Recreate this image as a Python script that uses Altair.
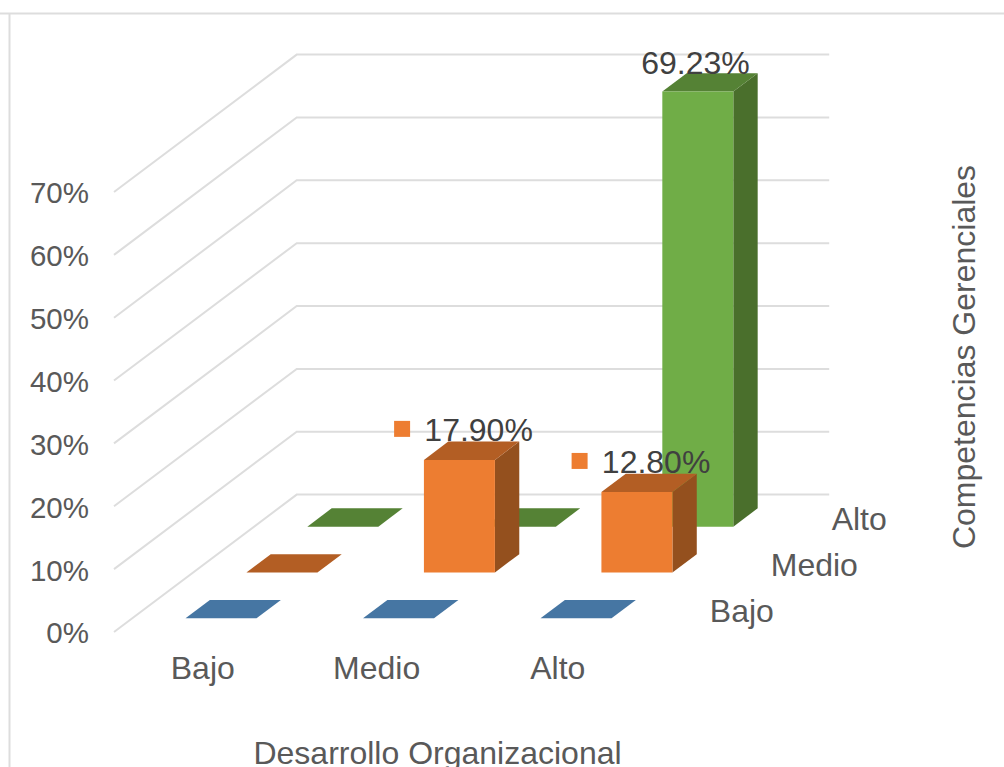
import altair as alt
import pandas as pd

# Values of the survey cross-tabulation, in percent.
categories = ["Bajo", "Medio", "Alto"]
series_names = ["Bajo", "Medio", "Alto"]
series_bajo = [0.0, 0.0, 0.0]
series_medio = [0.0, 17.90, 12.80]
series_alto = [0.0, 0.0, 69.23]
value_ticks = [0, 10, 20, 30, 40, 50, 60, 70]
x_title = "Desarrollo Organizacional"
depth_title = "Competencias Gerenciales"

front_colors = ["#5B9BD5", "#ED7D31", "#70AD47"]
top_colors = ["#4676A3", "#B35E24", "#558235"]
side_colors = ["#3D678E", "#94501E", "#4A6F2C"]

# Oblique projection: the scales run in category units and percent, and each
# unit of depth slides a point right and up by a fixed share of those units.
W, H = 1004, 767
X0, Y0 = 114.0, 632.0
PX_PER_CATEGORY = 177.5
PX_PER_PERCENT = 6.286
DEPTH_X = 60.9 / PX_PER_CATEGORY
DEPTH_Y = 45.8 / PX_PER_PERCENT
BAR_LOW, BAR_HIGH = 0.3, 0.7

x_scale = alt.Scale(domain=[-X0 / PX_PER_CATEGORY, (W - X0) / PX_PER_CATEGORY], range=[0, W], nice=False, zero=False)
y_scale = alt.Scale(domain=[(Y0 - H) / PX_PER_PERCENT, Y0 / PX_PER_PERCENT], range=[H, 0], nice=False, zero=False)
X = alt.X("x:Q", scale=x_scale, axis=None)
Y = alt.Y("y:Q", scale=y_scale, axis=None)


def px(u, d):
    return u + d * DEPTH_X


def py(v, d):
    return v + d * DEPTH_Y


GREY = "#DDDDDD"
AXIS_TEXT = "#595959"
LABEL_TEXT = "#404040"
FONT = "Liberation Sans"

layers = []

# Outer frame of the chart area.
frame = pd.DataFrame({"k": [0]})
layers.append(alt.Chart(frame).mark_rule(color=GREY, strokeWidth=2).encode(
    x=alt.value(0), x2=alt.value(W), y=alt.value(13.5)))
layers.append(alt.Chart(frame).mark_rule(color=GREY, strokeWidth=2).encode(
    x=alt.value(9.5), y=alt.value(13.5), y2=alt.value(H)))

# Gridlines run along the left wall and then across the back wall.
n_cat, n_ser = len(categories), len(series_names)
grid_rows = []
for t in value_ticks:
    for i, (u, d) in enumerate([(0, 0), (0, n_ser), (n_cat, n_ser)]):
        grid_rows.append({"tick": t, "i": i, "x": px(u, d), "y": py(t, d)})
layers.append(alt.Chart(pd.DataFrame(grid_rows)).mark_line(color=GREY, strokeWidth=2).encode(
    x=X, y=Y, order="i:Q", detail="tick:N"))

# Bars, drawn from the back row to the front row.
all_series = [series_bajo, series_medio, series_alto]
for s in reversed(range(n_ser)):
    values = all_series[s]
    d0, d1 = s + BAR_LOW, s + BAR_HIGH
    top_rows, side_rows, front_rows = [], [], []
    for c, v in enumerate(values):
        u0, u1 = c + BAR_LOW, c + BAR_HIGH
        for d in (d0, d1):
            top_rows.append({"bar": c, "y": py(v, d), "x": px(u0, d), "x2": px(u1, d)})
        if v > 0:
            for d in (d0, d1):
                side_rows.append({"bar": c, "x": px(u1, d), "y": py(v, d), "y2": py(0, d)})
            front_rows.append({"x": px(u0, d0), "x2": px(u1, d0), "y": py(0, d0), "y2": py(v, d0)})
    if side_rows:
        layers.append(alt.Chart(pd.DataFrame(side_rows)).mark_area(
            color=side_colors[s], orient="vertical", interpolate="linear").encode(
            x=X, y=Y, y2="y2:Q", detail="bar:N"))
    layers.append(alt.Chart(pd.DataFrame(top_rows)).mark_area(
        color=top_colors[s], orient="horizontal", interpolate="linear").encode(
        y=Y, x=X, x2="x2:Q", detail="bar:N"))
    if front_rows:
        layers.append(alt.Chart(pd.DataFrame(front_rows)).mark_rect(color=front_colors[s]).encode(
            x=X, x2="x2:Q", y=Y, y2="y2:Q"))


def text_layer(rows, **mark):
    return alt.Chart(pd.DataFrame(rows)).mark_text(font=FONT, **mark).encode(x=X, y=Y, text="t:N")


# Value axis labels.
layers.append(text_layer(
    [{"x": -25 / PX_PER_CATEGORY, "y": t - 1.82, "t": f"{t}%"} for t in value_ticks],
    fontSize=29.5, align="right", baseline="alphabetic", color=AXIS_TEXT))

# Category axis labels along the front edge.
cat_u = [0.5, 1.48, 2.5]
layers.append(text_layer(
    [{"x": cat_u[i], "y": -7.55, "t": c} for i, c in enumerate(categories)],
    fontSize=32, align="center", baseline="alphabetic", color=AXIS_TEXT))

# Series labels along the right edge of the floor.
layers.append(text_layer(
    [{"x": px(n_cat, s + 1.04), "y": py(-6.0, s + 1.04), "t": n} for s, n in enumerate(series_names)],
    fontSize=32, align="left", baseline="alphabetic", color=AXIS_TEXT))

# Axis titles.
layers.append(text_layer(
    [{"x": (437.5 - X0) / PX_PER_CATEGORY, "y": (Y0 - 763.7) / PX_PER_PERCENT, "t": x_title}],
    fontSize=32, align="center", baseline="alphabetic", color=AXIS_TEXT))
layers.append(text_layer(
    [{"x": (975 - X0) / PX_PER_CATEGORY, "y": (Y0 - 357) / PX_PER_PERCENT, "t": depth_title}],
    fontSize=32, align="center", baseline="alphabetic", angle=270, color=AXIS_TEXT))

# Value labels above the bars; the middle row carries its legend key.
label_rows, key_rows = [], []
label_shift = {1: 7.0, 2: -14.5}
label_rise = {1: 9.4, 2: 8.4}
for s, values in enumerate(all_series):
    for c, v in enumerate(values):
        if v > 0:
            d = s + 0.5
            lx = px(c + 0.5, d) + label_shift[s] / PX_PER_CATEGORY
            ly = py(v, d) + label_rise[s] / PX_PER_PERCENT
            label_rows.append({"x": lx, "y": ly, "t": f"{v:.2f}%"})
            if s == 1:
                key_rows.append({"x": lx - 76.5 / PX_PER_CATEGORY, "y": ly + 12.5 / PX_PER_PERCENT})
layers.append(alt.Chart(pd.DataFrame(key_rows)).mark_square(color=front_colors[1], size=256, opacity=1).encode(x=X, y=Y))
layers.append(text_layer(label_rows, fontSize=32, align="center", baseline="alphabetic", color=LABEL_TEXT))

chart = alt.layer(*layers).properties(
    width=W, height=H, padding=0, autosize=alt.AutoSizeParams(type="none"), background="white",
).configure_view(stroke=None)

chart.save("out.html", embed_options={"renderer": "svg", "actions": False})
